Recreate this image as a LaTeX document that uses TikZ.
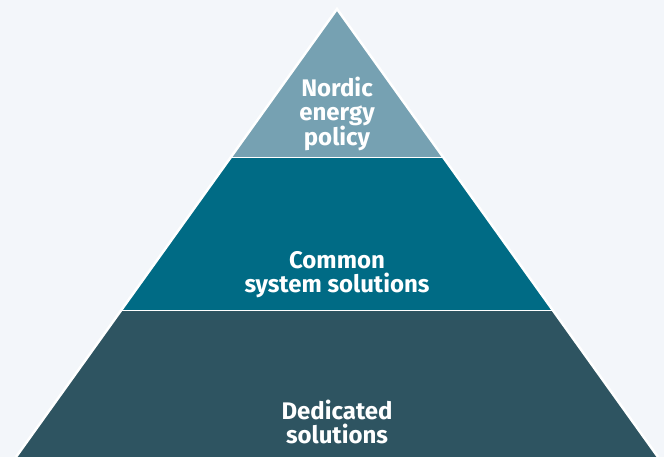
\documentclass[tikz,border=0pt]{standalone}
\usepackage{fontspec}
\setmainfont{Fira Sans}
\definecolor{bg}{HTML}{F3F6FA}
\definecolor{topc}{HTML}{76A1B2}
\definecolor{midc}{HTML}{006B85}
\definecolor{botc}{HTML}{2E5461}
\begin{document}
\begin{tikzpicture}[x=1pt,y=-1pt,
  lbl/.style={text=white,font=\fontsize{24}{24}\selectfont\bfseries,align=center,inner sep=0pt}]
\fill[bg] (0,0) rectangle (664,457);
\useasboundingbox (0,0) rectangle (664,457);
\coordinate (A) at (337,9);
\coordinate (L1) at (230,158);
\coordinate (R1) at (444,158);
\coordinate (L2) at (121,310);
\coordinate (R2) at (553,310);
\coordinate (L3) at (16,457);
\coordinate (R3) at (658,457);
\fill[botc] (L2) -- (R2) -- (R3) -- (L3) -- cycle;
\fill[midc] (L1) -- (R1) -- (R2) -- (L2) -- cycle;
\fill[topc] (A) -- (R1) -- (L1) -- cycle;
\draw[white,line width=1pt] (L1) -- (R1);
\draw[white,line width=1pt] (L2) -- (R2);
\draw[white,line width=2.5pt,line join=miter] (L3) -- (A) -- (R3);
\node[lbl] (t) at (337,114) {Nordic\\energy\\policy};
\node[lbl] (m) at (337,275) {Common\\system solutions};
\node[lbl] (b) at (337,422) {Dedicated\\solutions};
\end{tikzpicture}
\end{document}
